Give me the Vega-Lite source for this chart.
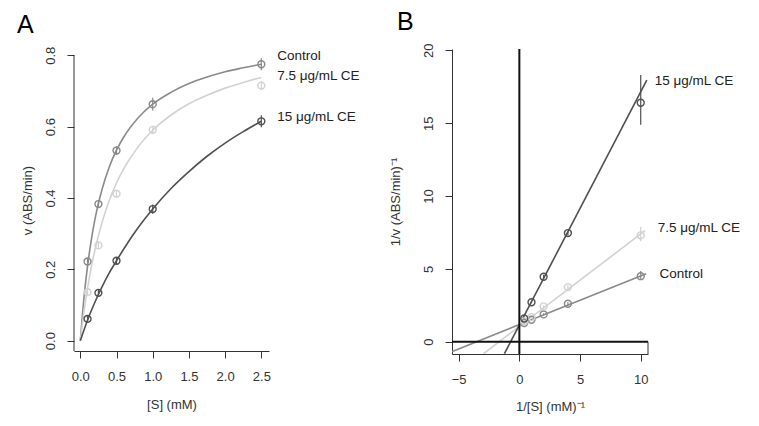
{
  "$schema": "https://vega.github.io/schema/vega-lite/v6.json",
  "background": "white",
  "padding": {"left": 17, "top": 10, "right": 5, "bottom": 5},
  "bounds": "flush",
  "spacing": 183,
  "config": {
    "view": {"stroke": null},
    "font": "Liberation Sans",
    "axis": {
      "grid": false,
      "domainColor": "#333333",
      "tickColor": "#333333",
      "labelColor": "#333333",
      "titleColor": "#333333",
      "labelFont": "Liberation Sans",
      "titleFont": "Liberation Sans",
      "labelFontSize": 13,
      "titleFontSize": 13,
      "titleFontWeight": "normal",
      "tickSize": 7,
      "labelFlush": false,
      "labelOverlap": false
    },
    "title": {"font": "Liberation Sans", "fontWeight": "normal", "fontSize": 25, "color": "#000000", "anchor": "start", "baseline": "alphabetic", "frame": "group"}
  },
  "datasets": {
    "curvesA": [
      {"series": "Control", "S": 0, "v": 0},
      {"series": "Control", "S": 0.05, "v": 0.119},
      {"series": "Control", "S": 0.1, "v": 0.209},
      {"series": "Control", "S": 0.15, "v": 0.28},
      {"series": "Control", "S": 0.2, "v": 0.338},
      {"series": "Control", "S": 0.3, "v": 0.424},
      {"series": "Control", "S": 0.4, "v": 0.487},
      {"series": "Control", "S": 0.5, "v": 0.534},
      {"series": "Control", "S": 0.6, "v": 0.571},
      {"series": "Control", "S": 0.8, "v": 0.625},
      {"series": "Control", "S": 1.0, "v": 0.663},
      {"series": "Control", "S": 1.25, "v": 0.696},
      {"series": "Control", "S": 1.5, "v": 0.721},
      {"series": "Control", "S": 1.75, "v": 0.739},
      {"series": "Control", "S": 2.0, "v": 0.754},
      {"series": "Control", "S": 2.25, "v": 0.765},
      {"series": "Control", "S": 2.5, "v": 0.775},
      {"series": "7.5 μg/mL CE", "S": 0, "v": 0},
      {"series": "7.5 μg/mL CE", "S": 0.05, "v": 0.08},
      {"series": "7.5 μg/mL CE", "S": 0.1, "v": 0.147},
      {"series": "7.5 μg/mL CE", "S": 0.15, "v": 0.204},
      {"series": "7.5 μg/mL CE", "S": 0.2, "v": 0.252},
      {"series": "7.5 μg/mL CE", "S": 0.3, "v": 0.331},
      {"series": "7.5 μg/mL CE", "S": 0.4, "v": 0.393},
      {"series": "7.5 μg/mL CE", "S": 0.5, "v": 0.442},
      {"series": "7.5 μg/mL CE", "S": 0.6, "v": 0.482},
      {"series": "7.5 μg/mL CE", "S": 0.8, "v": 0.544},
      {"series": "7.5 μg/mL CE", "S": 1.0, "v": 0.59},
      {"series": "7.5 μg/mL CE", "S": 1.25, "v": 0.632},
      {"series": "7.5 μg/mL CE", "S": 1.5, "v": 0.664},
      {"series": "7.5 μg/mL CE", "S": 1.75, "v": 0.688},
      {"series": "7.5 μg/mL CE", "S": 2.0, "v": 0.708},
      {"series": "7.5 μg/mL CE", "S": 2.25, "v": 0.724},
      {"series": "7.5 μg/mL CE", "S": 2.5, "v": 0.738},
      {"series": "15 μg/mL CE", "S": 0, "v": 0},
      {"series": "15 μg/mL CE", "S": 0.05, "v": 0.029},
      {"series": "15 μg/mL CE", "S": 0.1, "v": 0.057},
      {"series": "15 μg/mL CE", "S": 0.15, "v": 0.083},
      {"series": "15 μg/mL CE", "S": 0.2, "v": 0.107},
      {"series": "15 μg/mL CE", "S": 0.3, "v": 0.151},
      {"series": "15 μg/mL CE", "S": 0.4, "v": 0.19},
      {"series": "15 μg/mL CE", "S": 0.5, "v": 0.224},
      {"series": "15 μg/mL CE", "S": 0.6, "v": 0.257},
      {"series": "15 μg/mL CE", "S": 0.8, "v": 0.317},
      {"series": "15 μg/mL CE", "S": 1.0, "v": 0.369},
      {"series": "15 μg/mL CE", "S": 1.25, "v": 0.426},
      {"series": "15 μg/mL CE", "S": 1.5, "v": 0.474},
      {"series": "15 μg/mL CE", "S": 1.75, "v": 0.517},
      {"series": "15 μg/mL CE", "S": 2.0, "v": 0.554},
      {"series": "15 μg/mL CE", "S": 2.25, "v": 0.586},
      {"series": "15 μg/mL CE", "S": 2.5, "v": 0.615}
    ],
    "pointsA": [
      {"series": "Control", "S": 0.1, "v": 0.222, "lo": 0.212, "hi": 0.232},
      {"series": "Control", "S": 0.25, "v": 0.383, "lo": 0.373, "hi": 0.393},
      {"series": "Control", "S": 0.5, "v": 0.533, "lo": 0.521, "hi": 0.545},
      {"series": "Control", "S": 1.0, "v": 0.663, "lo": 0.645, "hi": 0.681},
      {"series": "Control", "S": 2.5, "v": 0.775, "lo": 0.758, "hi": 0.792},
      {"series": "7.5 μg/mL CE", "S": 0.1, "v": 0.136, "lo": 0.128, "hi": 0.144},
      {"series": "7.5 μg/mL CE", "S": 0.25, "v": 0.267, "lo": 0.258, "hi": 0.276},
      {"series": "7.5 μg/mL CE", "S": 0.5, "v": 0.412, "lo": 0.402, "hi": 0.422},
      {"series": "7.5 μg/mL CE", "S": 1.0, "v": 0.591, "lo": 0.581, "hi": 0.601},
      {"series": "7.5 μg/mL CE", "S": 2.5, "v": 0.715, "lo": 0.703, "hi": 0.727},
      {"series": "15 μg/mL CE", "S": 0.1, "v": 0.061, "lo": 0.053, "hi": 0.069},
      {"series": "15 μg/mL CE", "S": 0.25, "v": 0.134, "lo": 0.126, "hi": 0.142},
      {"series": "15 μg/mL CE", "S": 0.5, "v": 0.224, "lo": 0.215, "hi": 0.233},
      {"series": "15 μg/mL CE", "S": 1.0, "v": 0.369, "lo": 0.356, "hi": 0.382},
      {"series": "15 μg/mL CE", "S": 2.5, "v": 0.615, "lo": 0.598, "hi": 0.632}
    ],
    "labelsA": [
      {"series": "Control", "S": 2.72, "v": 0.797},
      {"series": "7.5 μg/mL CE", "S": 2.72, "v": 0.741},
      {"series": "15 μg/mL CE", "S": 2.72, "v": 0.627}
    ],
    "linesB": [
      {"series": "Control", "invS": -5.6, "invV": -0.693},
      {"series": "Control", "invS": 10.45, "invV": 4.67},
      {"series": "7.5 μg/mL CE", "invS": -2.95, "invV": -0.82},
      {"series": "7.5 μg/mL CE", "invS": 10.35, "invV": 7.62},
      {"series": "15 μg/mL CE", "invS": -1.23, "invV": -0.82},
      {"series": "15 μg/mL CE", "invS": 10.5, "invV": 17.95}
    ],
    "pointsB": [
      {"series": "Control", "invS": 10, "invV": 4.5, "lo": 4.25, "hi": 4.85},
      {"series": "Control", "invS": 4, "invV": 2.61, "lo": 2.5, "hi": 2.72},
      {"series": "Control", "invS": 2, "invV": 1.876, "lo": 1.8, "hi": 1.95},
      {"series": "Control", "invS": 1, "invV": 1.508, "lo": 1.45, "hi": 1.57},
      {"series": "Control", "invS": 0.4, "invV": 1.29, "lo": 1.25, "hi": 1.33},
      {"series": "7.5 μg/mL CE", "invS": 10, "invV": 7.3, "lo": 6.9, "hi": 7.9},
      {"series": "7.5 μg/mL CE", "invS": 4, "invV": 3.75, "lo": 3.6, "hi": 3.9},
      {"series": "7.5 μg/mL CE", "invS": 2, "invV": 2.43, "lo": 2.35, "hi": 2.5},
      {"series": "7.5 μg/mL CE", "invS": 1, "invV": 1.69, "lo": 1.65, "hi": 1.74},
      {"series": "7.5 μg/mL CE", "invS": 0.4, "invV": 1.4, "lo": 1.36, "hi": 1.44},
      {"series": "15 μg/mL CE", "invS": 10, "invV": 16.4, "lo": 14.9, "hi": 18.3},
      {"series": "15 μg/mL CE", "invS": 4, "invV": 7.46, "lo": 7.3, "hi": 7.6},
      {"series": "15 μg/mL CE", "invS": 2, "invV": 4.46, "lo": 4.35, "hi": 4.6},
      {"series": "15 μg/mL CE", "invS": 1, "invV": 2.71, "lo": 2.65, "hi": 2.78},
      {"series": "15 μg/mL CE", "invS": 0.4, "invV": 1.6, "lo": 1.55, "hi": 1.66}
    ],
    "labelsB": [
      {"series": "15 μg/mL CE", "invS": 11.15, "invV": 17.9},
      {"series": "7.5 μg/mL CE", "invS": 11.4, "invV": 7.8},
      {"series": "Control", "invS": 11.55, "invV": 4.65}
    ]
  },
  "hconcat": [
    {
      "width": 195,
      "height": 302,
      "title": {"text": "A", "dx": -57, "offset": 8},
      "encoding": {
        "x": {
          "field": "S", "type": "quantitative",
          "scale": {"domain": [-0.087, 2.606], "nice": false, "zero": false},
          "axis": {"values": [0, 0.5, 1, 1.5, 2, 2.5], "format": ".1f", "title": "[S] (mM)", "labelPadding": 12, "titlePadding": 15}
        },
        "y": {
          "field": "v", "type": "quantitative",
          "scale": {"domain": [-0.029, 0.8177], "nice": false, "zero": false},
          "axis": {"values": [0, 0.2, 0.4, 0.6, 0.8], "format": ".1f", "domain": false, "title": "v (ABS/min)", "labelAngle": 270, "labelAlign": "center", "labelBaseline": "alphabetic", "labelPadding": 13, "titlePadding": 10}
        },
        "color": {
          "field": "series", "type": "nominal", "legend": null,
          "scale": {"domain": ["Control", "7.5 μg/mL CE", "15 μg/mL CE"], "range": ["#8a8a8a", "#d2d2d2", "#505050"]}
        }
      },
      "layer": [
        {
          "data": {"name": "curvesA"},
          "mark": {"type": "line", "interpolate": "monotone", "strokeWidth": 1.6, "clip": true}
        },
        {
          "data": {"name": "pointsA"},
          "mark": {"type": "rule", "strokeWidth": 1.2},
          "encoding": {"y": {"field": "lo", "type": "quantitative"}, "y2": {"field": "hi"}}
        },
        {
          "data": {"name": "pointsA"},
          "mark": {"type": "point", "filled": false, "size": 48, "strokeWidth": 1.4, "opacity": 1}
        },
        {
          "data": {"values": [{"xLine": -0.087, "yFrom": -0.029, "yTo": 0.8}]},
          "mark": {"type": "rule", "strokeWidth": 1},
          "encoding": {
            "x": {"field": "xLine", "type": "quantitative"},
            "y": {"field": "yFrom", "type": "quantitative"},
            "y2": {"field": "yTo"},
            "color": {"value": "#333333"}
          }
        },
        {
          "data": {"name": "labelsA"},
          "mark": {"type": "text", "align": "left", "baseline": "middle", "fontSize": 13.5, "font": "Liberation Sans", "clip": false},
          "encoding": {"text": {"field": "series"}, "color": {"value": "#222222"}}
        }
      ]
    },
    {
      "width": 196,
      "height": 305,
      "title": {"text": "B", "dx": -55, "offset": 8},
      "encoding": {
        "x": {
          "field": "invS", "type": "quantitative",
          "scale": {"domain": [-5.55, 10.6], "nice": false, "zero": false},
          "axis": {"values": [-5, 0, 5, 10], "format": "d", "title": "1/[S] (mM)⁻¹", "labelPadding": 12, "titlePadding": 14}
        },
        "y": {
          "field": "invV", "type": "quantitative",
          "scale": {"domain": [-0.84, 20.09], "nice": false, "zero": false},
          "axis": {"values": [0, 5, 10, 15, 20], "format": "d", "title": "1/v (ABS/min)⁻¹", "labelAngle": 270, "labelAlign": "center", "labelBaseline": "alphabetic", "labelPadding": 13, "titlePadding": 20}
        },
        "color": {
          "field": "series", "type": "nominal", "legend": null,
          "scale": {"domain": ["Control", "7.5 μg/mL CE", "15 μg/mL CE"], "range": ["#8a8a8a", "#d2d2d2", "#505050"]}
        }
      },
      "layer": [
        {
          "data": {"name": "linesB"},
          "mark": {"type": "line", "strokeWidth": 1.6, "clip": true}
        },
        {
          "data": {"values": [{"xFrom": -5.55, "xTo": 10.6, "yRef": 0}]},
          "mark": {"type": "rule", "strokeWidth": 2},
          "encoding": {
            "x": {"field": "xFrom", "type": "quantitative"},
            "x2": {"field": "xTo"},
            "y": {"field": "yRef", "type": "quantitative"},
            "color": {"value": "#111111"}
          }
        },
        {
          "data": {"values": [{"xRef": 0, "yFrom": -0.84, "yTo": 20.09}]},
          "mark": {"type": "rule", "strokeWidth": 2},
          "encoding": {
            "x": {"field": "xRef", "type": "quantitative"},
            "y": {"field": "yFrom", "type": "quantitative"},
            "y2": {"field": "yTo"},
            "color": {"value": "#111111"}
          }
        },
        {
          "data": {"values": [{"xRef": 10.6, "yFrom": -0.84, "yTo": 0}]},
          "mark": {"type": "rule", "strokeWidth": 1},
          "encoding": {
            "x": {"field": "xRef", "type": "quantitative"},
            "y": {"field": "yFrom", "type": "quantitative"},
            "y2": {"field": "yTo"},
            "color": {"value": "#333333"}
          }
        },
        {
          "data": {"name": "pointsB"},
          "mark": {"type": "rule", "strokeWidth": 1.2},
          "encoding": {"y": {"field": "lo", "type": "quantitative"}, "y2": {"field": "hi"}}
        },
        {
          "data": {"name": "pointsB"},
          "mark": {"type": "point", "filled": false, "size": 48, "strokeWidth": 1.4, "opacity": 1}
        },
        {
          "data": {"name": "labelsB"},
          "mark": {"type": "text", "align": "left", "baseline": "middle", "fontSize": 13.5, "font": "Liberation Sans", "clip": false},
          "encoding": {"text": {"field": "series"}, "color": {"value": "#222222"}}
        }
      ]
    }
  ]
}
